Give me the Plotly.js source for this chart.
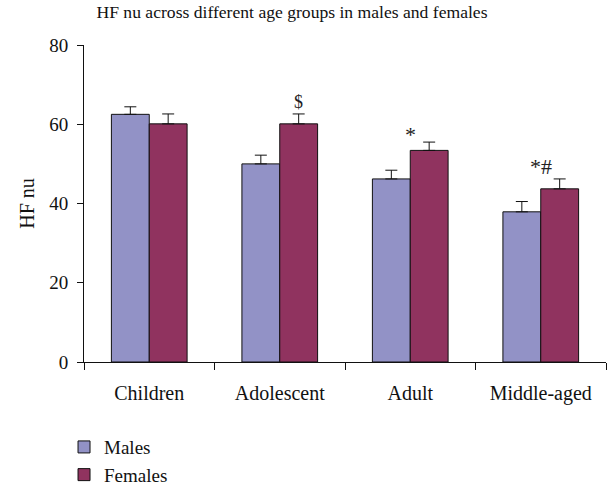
<!DOCTYPE html>
<html>
<head>
<meta charset="utf-8">
<script src="https://cdn.plot.ly/plotly-3.0.1.min.js"></script>
<style>html,body{margin:0;padding:0;background:#fff;}#chart{width:608px;height:486px;}</style>
</head>
<body>
<div id="chart"></div>
<script>
const categories = ['Children', 'Adolescent', 'Adult', 'Middle-aged'];
const malesValues = [62.5, 50.0, 46.2, 37.9];
const malesErrors = [1.9, 2.2, 2.2, 2.6];
const femalesValues = [60.1, 60.1, 53.4, 43.7];
const femalesErrors = [2.5, 2.5, 2.1, 2.5];
const significanceMarks = ['', '$', '*', '*#'];
const yTicks = [0, 20, 40, 60, 80];

const FONT = '"Liberation Serif", "Times New Roman", serif';

const traces = [
  {
    type: 'bar', name: 'Males', x: categories, y: malesValues,
    marker: {color: '#9292C6', line: {color: '#111', width: 1}},
    error_y: {type: 'data', array: malesErrors, symmetric: false, arrayminus: [0,0,0,0], color: '#111', thickness: 1, width: 6},
    legendgroup: 'm'
  },
  {
    type: 'bar', name: 'Females', x: categories, y: femalesValues,
    marker: {color: '#90335F', line: {color: '#111', width: 1}},
    error_y: {type: 'data', array: femalesErrors, symmetric: false, arrayminus: [0,0,0,0], color: '#111', thickness: 1, width: 6},
    legendgroup: 'f'
  }
];

const annotations = [];
categories.forEach((c, i) => {
  const mark = significanceMarks[i];
  if (!mark) return;
  const top = femalesValues[i] + femalesErrors[i];
  const onFemale = mark === '$';
  annotations.push({
    x: c, y: top, xref: 'x', yref: 'y', text: mark, showarrow: false,
    yanchor: 'bottom', xanchor: 'center', xshift: onFemale ? 19 : 0,
    yshift: mark === '$' ? 0 : (mark === '*' ? -7 : -2),
    font: {family: FONT, size: mark === '$' ? 18 : 22, color: '#222'}
  });
});

const plotL = 83.5, plotR = 606, plotT = 44.7, plotB = 362.3;
const layout = {
  width: 608, height: 486,
  margin: {l: plotL, r: 608 - plotR, t: plotT, b: 486 - plotB, autoexpand: false},
  paper_bgcolor: '#fff', plot_bgcolor: '#fff',
  font: {family: FONT, size: 20, color: '#111'},
  title: {text: 'HF nu across different age groups in males and females', font: {family: FONT, size: 17.6, color: '#111'}, x: 292/608, xref: 'container', xanchor: 'center', y: 1 - 6/486, yref: 'container', yanchor: 'top'},
  bargap: 0.42, bargroupgap: 0,
  showlegend: true,
  legend: {orientation: 'v', x: (63.5 - plotL)/(plotR - plotL), xref: 'paper', y: (plotB - 428.5)/(plotB - plotT), yref: 'paper', yanchor: 'top', xanchor: 'left', font: {family: FONT, size: 19, color: '#111'}, traceorder: 'grouped', tracegroupgap: 0, bgcolor: 'rgba(0,0,0,0)'},
  xaxis: {
    type: 'category', tickson: 'boundaries', ticks: 'outside', ticklen: 7, tickcolor: '#111', tickwidth: 1, tickangle: 0,
    showline: true, linecolor: '#111', linewidth: 1, showgrid: false, zeroline: false, automargin: false,
    tickfont: {family: FONT, size: 20, color: '#111'}, ticklabelstandoff: 13
  },
  yaxis: {
    range: [0, 80], tickvals: yTicks, ticks: 'outside', ticklen: 6, tickcolor: '#111', tickwidth: 1,
    showline: true, linecolor: '#111', linewidth: 1, showgrid: false, zeroline: false, automargin: false,
    tickfont: {family: FONT, size: 19, color: '#111'}, ticklabelstandoff: 5,
    title: {text: 'HF nu', font: {family: FONT, size: 20, color: '#111'}}
  },
  annotations: annotations
};

Plotly.newPlot('chart', traces, layout, {displayModeBar: false, staticPlot: true});
</script>
</body>
</html>
